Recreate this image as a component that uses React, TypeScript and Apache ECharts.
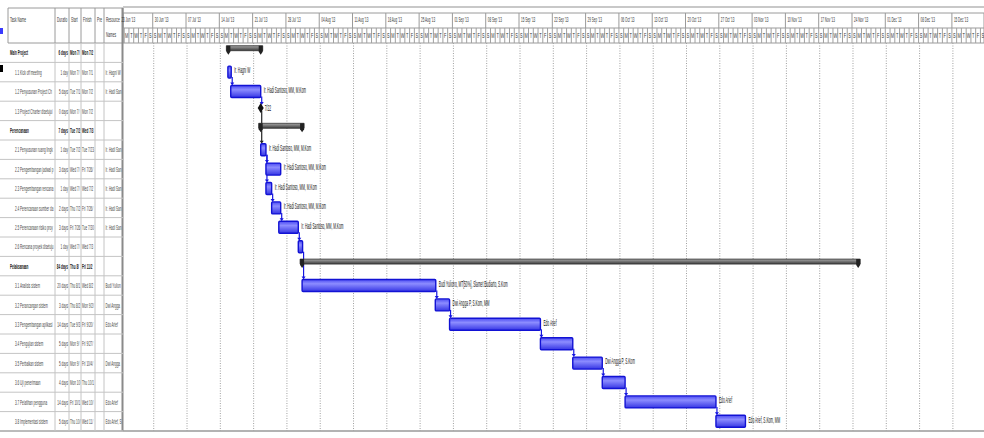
import React, { useEffect, useRef } from "react";
import * as echarts from "echarts";

const taskNames = [
  "Main Project",
  "1.1 Kick off meeting",
  "1.2 Penyusunan Project Charter",
  "1.3 Project Charter disetujui",
  "Perencanaan",
  "2.1 Penyusunan ruang lingkup",
  "2.2 Pengembangan jadwal proyek",
  "2.3 Pengembangan rencana biaya",
  "2.4 Perencanaan sumber daya",
  "2.5 Perencanaan risiko proyek",
  "2.6 Rencana proyek disetujui",
  "Pelaksanaan",
  "3.1 Analisis sistem",
  "3.2 Perancangan sistem",
  "3.3 Pengembangan aplikasi",
  "3.4 Pengujian sistem",
  "3.5 Perbaikan sistem",
  "3.6 Uji penerimaan",
  "3.7 Pelatihan pengguna",
  "3.8 Implementasi sistem",
];
const taskKind = [
  "summary", "task", "task", "milestone",
  "summary", "task", "task", "task", "task", "task", "task",
  "summary", "task", "task", "task", "task", "task", "task", "task", "task",
];
const durationText = [
  "6 days", "1 day", "5 days", "0 days", "7 days", "1 day", "3 days", "1 day", "2 days", "3 days",
  "1 day", "84 days", "20 days", "3 days", "14 days", "5 days", "5 days", "4 days", "14 days", "5 days",
];
const startText = [
  "Mon 7/15/13", "Mon 7/15/13", "Tue 7/16/13", "Mon 7/22/13", "Tue 7/23/13", "Tue 7/23/13", "Wed 7/24/13",
  "Wed 7/24/13", "Thu 7/25/13", "Fri 7/26/13", "Wed 7/31/13", "Thu 8/1/13", "Thu 8/1/13", "Thu 8/29/13",
  "Tue 9/3/13", "Mon 9/23/13", "Mon 9/30/13", "Mon 10/7/13", "Fri 10/11/13", "Thu 10/31/13",
];
const finishText = [
  "Mon 7/22/13", "Mon 7/15/13", "Mon 7/22/13", "Mon 7/22/13", "Wed 7/31/13", "Tue 7/23/13", "Fri 7/26/13",
  "Wed 7/24/13", "Fri 7/26/13", "Tue 7/30/13", "Wed 7/31/13", "Fri 11/29/13", "Wed 8/28/13", "Mon 9/2/13",
  "Fri 9/20/13", "Fri 9/27/13", "Fri 10/4/13", "Thu 10/10/13", "Wed 10/30/13", "Wed 11/6/13",
];
const resourceText = [
  "", "Ir. Hagni W", "Ir. Hadi Santoso, MM, M.Kom", "",
  "", "Ir. Hadi Santoso, MM, M.Kom", "Ir. Hadi Santoso, MM, M.Kom", "Ir. Hadi Santoso, MM, M.Kom",
  "Ir. Hadi Santoso, MM, M.Kom", "Ir. Hadi Santoso, MM, M.Kom", "",
  "", "Budi Yuliono, MT, Slamet Budiarto, S.Kom", "Dwi Angga P, S.Kom, MM", "Edo Arief", "",
  "Dwi Angga P, S.Kom", "", "Edo Arief", "Edo Arief, S.Kom, MM",
];
const barLabels = [
  "", "Ir. Hagni W", "Ir. Hadi Santoso, MM, M.Kom", "7/22",
  "", "Ir. Hadi Santoso, MM, M.Kom", "Ir. Hadi Santoso, MM, M.Kom", "Ir. Hadi Santoso, MM, M.Kom",
  "Ir. Hadi Santoso, MM, M.Kom", "Ir. Hadi Santoso, MM, M.Kom", "",
  "", "Budi Yuliono, MT[50%], Slamet Budiarto, S.Kom", "Dwi Angga P, S.Kom, MM", "Edo Arief", "",
  "Dwi Angga P, S.Kom", "", "Edo Arief", "Edo Arief, S.Kom, MM",
];
// days counted from Sunday 30 Jun 2013
const startDay = [15.9, 15.8, 16.4, 22.7, 22.7, 22.7, 23.8, 23.8, 25.0, 26.5, 30.6, 31.4, 31.4, 59.4, 62.4, 81.5, 88.3, 94.5, 99.3, 118.4];
const endDay = [22.7, 16.5, 22.7, 22.7, 31.4, 23.8, 26.9, 25.0, 26.9, 30.6, 31.5, 148.3, 59.5, 62.4, 81.5, 88.3, 94.5, 99.3, 118.4, 124.6];
const links = [
  [1, 2], [2, 3], [3, 5], [5, 6], [5, 7], [7, 8], [8, 9], [9, 10], [10, 12],
  [12, 13], [13, 14], [14, 15], [15, 16], [16, 17], [17, 18], [18, 19],
];
const weekLabels = [
  "23 Jun '13", "30 Jun '13", "07 Jul '13", "14 Jul '13", "21 Jul '13", "28 Jul '13", "04 Aug '13",
  "11 Aug '13", "18 Aug '13", "25 Aug '13", "01 Sep '13", "08 Sep '13", "15 Sep '13", "22 Sep '13",
  "29 Sep '13", "06 Oct '13", "13 Oct '13", "20 Oct '13", "27 Oct '13", "03 Nov '13", "10 Nov '13",
  "17 Nov '13", "24 Nov '13", "01 Dec '13", "08 Dec '13", "15 Dec '13",
];
const weekStartDay = [-7, 0, 7, 14, 21, 28, 35, 42, 49, 56, 63, 70, 77, 84, 91, 98, 105, 112, 119, 126, 133, 140, 147, 154, 161, 168];
const dayLetters = ["S", "M", "T", "W", "T", "F", "S"];
const headerTexts = ["Task Name", "Duration", "Start", "Finish", "Predecessors", "Resource\nNames"];

const FONT = "Liberation Sans";
const TOP = 43;
const ROWS_H = 388;
const SPLIT = 123;
const DAY_MIN = -6.25;
const DAY_MAX = 174.75;
const colX = [8, 55, 69, 81, 95, 104, 123];

function tinyText(x: number, y: number, text: string, opts: any = {}) {
  return {
    type: "text",
    x,
    y,
    scaleX: opts.scaleX ?? 0.4,
    z2: 5,
    style: {
      text,
      fontSize: opts.fontSize ?? 8,
      fontFamily: FONT,
      fontWeight: opts.bold ? "bold" : "normal",
      fill: opts.fill ?? "#222",
      align: opts.align ?? "left",
      verticalAlign: opts.va ?? "middle",
      width: opts.width,
      overflow: opts.width ? "truncate" : undefined,
      ellipsis: "",
      lineHeight: opts.lineHeight,
    },
  };
}

export default function App() {
  const ref = useRef<HTMLDivElement>(null);
  useEffect(() => {
    const chart = echarts.init(ref.current!, null, { renderer: "svg" });
    const barFill = new echarts.graphic.LinearGradient(0, 0, 0, 1, [
      { offset: 0, color: "#4c4cf2" },
      { offset: 0.35, color: "#8c8cff" },
      { offset: 1, color: "#3636e4" },
    ]);
    const sumFill = new echarts.graphic.LinearGradient(0, 0, 0, 1, [
      { offset: 0, color: "#a8a8a8" },
      { offset: 1, color: "#3a3a3a" },
    ]);

    const option: any = {
      animation: false,
      backgroundColor: "#ffffff",
      grid: [
        { left: SPLIT, top: TOP, width: 984 - SPLIT, height: ROWS_H },
        { left: 0, top: TOP, width: SPLIT, height: ROWS_H },
      ],
      xAxis: [
        { type: "value", gridIndex: 0, min: DAY_MIN, max: DAY_MAX, show: false },
        { type: "value", gridIndex: 1, min: 0, max: SPLIT, show: false },
      ],
      yAxis: [
        { type: "category", gridIndex: 0, data: taskNames, inverse: true, show: false },
        { type: "category", gridIndex: 1, data: taskNames, inverse: true, show: false },
      ],
      graphic: [
        { type: "rect", shape: { x: 0, y: 28, width: 3, height: 6 }, style: { fill: "#3a3aff" } },
        { type: "rect", shape: { x: 0, y: 65, width: 3, height: 7 }, style: { fill: "#000" } },
        { type: "line", shape: { x1: SPLIT, y1: 7, x2: 984, y2: 7 }, style: { stroke: "#c8c8c8", lineWidth: 2 } },
        { type: "rect", shape: { x: 8, y: 8, width: SPLIT - 8, height: 35 }, style: { fill: "none", stroke: "#9a9a9a", lineWidth: 1 } },
        ...colX.slice(1, 6).map((x) => ({ type: "line", shape: { x1: x, y1: 8, x2: x, y2: 43 }, style: { stroke: "#9a9a9a", lineWidth: 1 } })),
        ...headerTexts.map((t, k) =>
          tinyText(colX[k] + 2, 11, t, { va: "top", scaleX: 0.4, width: (colX[k + 1] - colX[k] - 2) / 0.4, lineHeight: 15, fill: "#333" })
        ),
        { type: "rect", shape: { x: SPLIT, y: 13, width: 984 - SPLIT, height: 30 }, style: { fill: "none", stroke: "#9a9a9a", lineWidth: 1 } },
        { type: "line", shape: { x1: SPLIT, y1: 28, x2: 984, y2: 28 }, style: { stroke: "#9a9a9a", lineWidth: 1 } },
        { type: "line", shape: { x1: SPLIT - 0.5, y1: 8, x2: SPLIT - 0.5, y2: 431 }, style: { stroke: "#8a8a8a", lineWidth: 2 } },
        { type: "line", shape: { x1: 0, y1: 431, x2: 984, y2: 431 }, style: { stroke: "#9a9a9a", lineWidth: 1.5 } },
      ],
      series: [
        // table body
        {
          type: "custom",
          xAxisIndex: 1,
          yAxisIndex: 1,
          data: taskNames.map((_, i) => [i]),
          renderItem: (params: any, api: any) => {
            const i = api.value(0);
            const cy = api.coord([0, i])[1];
            const rh = api.size([0, 1])[1];
            const top = cy - rh / 2;
            const bot = cy + rh / 2;
            const sum = taskKind[i] === "summary";
            const cx = colX.map((x) => api.coord([x, i])[0]);
            const s = 0.38;
            const children: any[] = [
              { type: "line", shape: { x1: 0, y1: bot, x2: SPLIT, y2: bot }, style: { stroke: "#c4c4c4", lineWidth: 1 } },
              ...cx.slice(1, 6).map((x) => ({ type: "line", shape: { x1: x, y1: top, x2: x, y2: bot }, style: { stroke: "#c4c4c4", lineWidth: 1 } })),
              tinyText(cx[0] + (sum ? 2 : 7), cy, taskNames[i], { bold: sum, scaleX: s, width: (cx[1] - cx[0] - (sum ? 3 : 8)) / s, fill: sum ? "#111" : "#444" }),
              tinyText(cx[2] - 1, cy, durationText[i], { bold: sum, align: "right", scaleX: s, fill: sum ? "#111" : "#444" }),
              tinyText(cx[2] + 1, cy, startText[i], { bold: sum, scaleX: s, width: (cx[3] - cx[2] - 1) / s, fill: sum ? "#111" : "#444" }),
              tinyText(cx[3] + 1, cy, finishText[i], { bold: sum, scaleX: s, width: (cx[4] - cx[3] - 1) / s, fill: sum ? "#111" : "#444" }),
              tinyText(cx[5] + 1.5, cy, resourceText[i], { scaleX: s, width: (cx[6] - cx[5] - 2) / s, fill: "#444" }),
            ];
            return { type: "group", children };
          },
        },
        // timescale + gridlines
        {
          type: "custom",
          xAxisIndex: 0,
          yAxisIndex: 0,
          data: weekStartDay.map((d, k) => [d, k]),
          encode: { x: 0 },
          renderItem: (params: any, api: any) => {
            const d = api.value(0);
            const k = api.value(1);
            const cs = params.coordSys;
            const x0 = api.coord([d, 0])[0];
            const children: any[] = [];
            const top = cs.y - 30;
            const mid = cs.y - 15;
            if (x0 >= SPLIT) {
              children.push({ type: "line", shape: { x1: x0, y1: top, x2: x0, y2: mid }, style: { stroke: "#9a9a9a", lineWidth: 1 } });
              children.push({
                type: "line",
                shape: { x1: x0 + 1, y1: cs.y, x2: x0 + 1, y2: cs.y + cs.height },
                style: { stroke: "#a0a0a0", lineWidth: 1, lineDash: [1, 1.5] },
              });
            }
            children.push(tinyText(x0 + 2, top + 2, weekLabels[k], { va: "top", scaleX: 0.4, fontSize: 7.5, fill: "#333" }));
            for (let j = 0; j < 7; j++) {
              const xa = api.coord([d + j, 0])[0];
              const xc = api.coord([d + j + 0.5, 0])[0];
              if (xa >= SPLIT) {
                children.push({ type: "line", shape: { x1: xa, y1: mid, x2: xa, y2: cs.y }, style: { stroke: "#a0a0a0", lineWidth: 1 } });
              }
              if (xc > SPLIT + 1 && xc < 984) {
                children.push(tinyText(xc, mid + 8, dayLetters[j], { align: "center", scaleX: 0.6, fontSize: 6.5, fill: "#333" }));
              }
            }
            return { type: "group", children };
          },
        },
        // links
        {
          type: "custom",
          xAxisIndex: 0,
          yAxisIndex: 0,
          z: 3,
          data: links,
          renderItem: (params: any, api: any) => {
            const a = api.value(0);
            const b = api.value(1);
            const pa = api.coord([endDay[a], a]);
            const pb = api.coord([startDay[b], b]);
            const x = pa[0] + 1;
            const y1 = taskKind[a] === "milestone" ? pa[1] : pa[1] + 5;
            const y2 = pb[1] - 6;
            const col = taskKind[a] === "milestone" ? "#222" : "#1515e0";
            return {
              type: "group",
              children: [
                { type: "line", shape: { x1: x, y1, x2: x, y2: y2 - 2 }, style: { stroke: col, lineWidth: 1.2 } },
                { type: "polygon", shape: { points: [[x - 2, y2 - 3], [x + 2, y2 - 3], [x, y2]] }, style: { fill: col } },
              ],
            };
          },
        },
        // bars
        {
          type: "custom",
          xAxisIndex: 0,
          yAxisIndex: 0,
          z: 4,
          data: taskNames.map((_, i) => [i, startDay[i], endDay[i]]),
          encode: { x: [1, 2], y: 0 },
          renderItem: (params: any, api: any) => {
            const i = api.value(0);
            const p0 = api.coord([api.value(1), i]);
            const p1 = api.coord([api.value(2), i]);
            const cy = p0[1];
            const kind = taskKind[i];
            const children: any[] = [];
            if (kind === "summary") {
              const xa = p0[0];
              const xb = p1[0];
              children.push({ type: "rect", shape: { x: xa - 2, y: cy - 7, width: xb - xa + 4, height: 5 }, style: { fill: sumFill, stroke: "#333", lineWidth: 0.8 } });
              children.push({ type: "polygon", shape: { points: [[xa - 2, cy - 7], [xa + 2, cy - 7], [xa + 2, cy - 1], [xa, cy + 2], [xa - 2, cy - 1]] }, style: { fill: "#222" } });
              children.push({ type: "polygon", shape: { points: [[xb - 2, cy - 7], [xb + 2, cy - 7], [xb + 2, cy - 1], [xb, cy + 2], [xb - 2, cy - 1]] }, style: { fill: "#222" } });
            } else if (kind === "milestone") {
              const x = p0[0];
              const y = cy - 3;
              children.push({ type: "polygon", shape: { points: [[x, y - 5], [x + 3, y], [x, y + 5], [x - 3, y]] }, style: { fill: "#111" } });
            } else {
              children.push({
                type: "rect",
                shape: { x: p0[0], y: cy - 6, width: Math.max(p1[0] - p0[0], 2), height: 12, r: 1 },
                style: { fill: barFill, stroke: "#1212d4", lineWidth: 1.4 },
              });
            }
            if (barLabels[i]) {
              const lx = kind === "milestone" ? p1[0] + 4 : p1[0] + 3;
              children.push(tinyText(lx, kind === "milestone" ? cy - 3 : cy - 2, barLabels[i], { scaleX: 0.36, fontSize: 9, fill: "#111" }));
            }
            return { type: "group", children };
          },
        },
      ],
    };
    chart.setOption(option);
    return () => chart.dispose();
  }, []);
  return <div ref={ref} style={{ width: 984, height: 438, position: "absolute", left: 0, top: 0 }} />;
}
